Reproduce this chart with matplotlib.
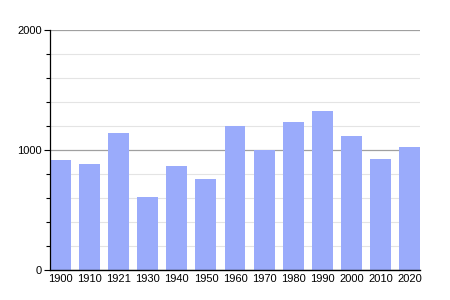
import matplotlib
matplotlib.use("Agg")
import matplotlib.pyplot as plt
from matplotlib.ticker import MultipleLocator

years = ["1900", "1910", "1921", "1930", "1940", "1950", "1960",
         "1970", "1980", "1990", "2000", "2010", "2020"]
population = [917, 883, 1139, 608, 867, 758, 1200, 997, 1233, 1325, 1119, 925, 1025]

plt.rcParams["font.family"] = ["Liberation Sans", "DejaVu Sans"]

fig = plt.figure(figsize=(4.5, 3), dpi=100)
ax = fig.add_axes([50 / 450, 30 / 300, 370 / 450, 240 / 300])

x = list(range(len(years)))
ax.bar(x, population, width=0.72, color="#9aabfb", zorder=3)

ax.set_xlim(-0.36, len(years) - 1 + 0.36)
ax.set_ylim(0, 2000)
ax.set_xticks(x)
ax.set_xticklabels(years)
ax.yaxis.set_major_locator(MultipleLocator(1000))
ax.yaxis.set_minor_locator(MultipleLocator(200))

ax.grid(axis="y", which="major", color="#a0a0a0", linewidth=0.9, zorder=1)
ax.grid(axis="y", which="minor", color="#e4e4e4", linewidth=0.8, zorder=1)

for s in ["top", "right"]:
    ax.spines[s].set_visible(False)
ax.spines["left"].set_linewidth(0.9)
ax.spines["bottom"].set_linewidth(1.0)
ax.spines["left"].set_zorder(4)
ax.spines["bottom"].set_zorder(4)

ax.tick_params(axis="x", length=0, labelsize=8, pad=3)
ax.tick_params(axis="y", which="major", length=4, width=0.8, labelsize=8, pad=2)
ax.tick_params(axis="y", which="minor", length=3, width=0.8)

fig.savefig("out.png", dpi=100)
